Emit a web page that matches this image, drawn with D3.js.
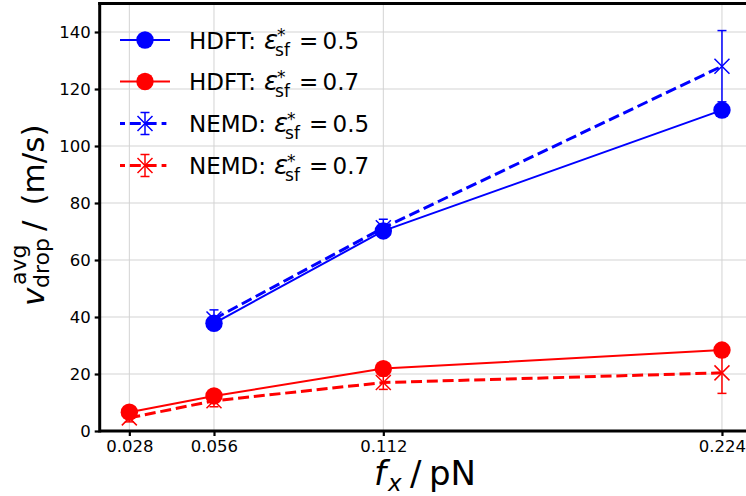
<!DOCTYPE html>
<html><head><meta charset="utf-8">
<script src="https://cdn.jsdelivr.net/npm/d3@7"></script>
<style>body{margin:0;background:#fff}svg{display:block;font-family:"DejaVu Sans",sans-serif}</style>
</head><body><svg id="c" width="746" height="496"></svg>
<script>
const xTicks = [0.028, 0.056, 0.112, 0.224];
const xTickLabels = ["0.028", "0.056", "0.112", "0.224"];
const yTicks = [0, 20, 40, 60, 80, 100, 120, 140];
const hdft05_x = [0.056, 0.112, 0.224];
const hdft05_y = [37.8, 70.2, 112.6];
const hdft07_x = [0.028, 0.056, 0.112, 0.224];
const hdft07_y = [6.6, 12.3, 21.9, 28.4];
const nemd05_x = [0.056, 0.112, 0.224];
const nemd05_y = [39.3, 71.3, 128.0];
const nemd05_err = [3.2, 3.0, 12.5];
const nemd07_x = [0.028, 0.056, 0.112, 0.224];
const nemd07_y = [4.6, 10.6, 17.0, 20.4];
const nemd07_err = [1.4, 2.1, 2.4, 7.2];
const legendNames = ["HDFT:", "HDFT:", "NEMD:", "NEMD:"];
const legendVals = ["0.5", "0.7", "0.5", "0.7"];

const svg = d3.select("#c");
const x = d3.scaleLinear().domain([0.0182, 0.2338]).range([99.7, 751.6]);
const y = d3.scaleLinear().domain([0, 150]).range([431, 3.5]);
const blue = "#0000ff", red = "#ff0000";

// grid
svg.append("g").selectAll("line").data(xTicks).join("line")
  .attr("x1", d => x(d)).attr("x2", d => x(d)).attr("y1", y(0)).attr("y2", y(150))
  .attr("stroke", "#d3d3d3").attr("stroke-width", 1);
svg.append("g").selectAll("line").data(yTicks).join("line")
  .attr("x1", x(0.0182)).attr("x2", 746).attr("y1", d => y(d)).attr("y2", d => y(d))
  .attr("stroke", "#d3d3d3").attr("stroke-width", 1);

// axes
const xAxis = d3.axisBottom(x).tickValues(xTicks).tickFormat((d, i) => xTickLabels[i]).tickSize(5).tickPadding(4);
const gx = svg.append("g").attr("transform", `translate(0,${y(0)})`).call(xAxis);
const yAxis = d3.axisLeft(y).tickValues(yTicks).tickSize(5).tickPadding(4);
const gy = svg.append("g").attr("transform", `translate(${x(0.0182)},0)`).call(yAxis);
[gx, gy].forEach(g => {
  g.select(".domain").remove();
  g.selectAll(".tick line").attr("stroke", "#000").attr("stroke-width", 2.2);
  g.selectAll(".tick text").attr("font-size", 16.5).attr("fill", "#000").attr("font-family", "DejaVu Sans");
});
// spines
svg.append("line").attr("x1", x(0.0182)).attr("x2", 746).attr("y1", y(0)).attr("y2", y(0)).attr("stroke", "#000").attr("stroke-width", 3);
svg.append("line").attr("x1", x(0.0182)).attr("x2", x(0.0182)).attr("y1", y(0) + 1.5).attr("y2", y(150) - 1.5).attr("stroke", "#000").attr("stroke-width", 3);
svg.append("line").attr("x1", x(0.0182) - 1.5).attr("x2", 746).attr("y1", y(150)).attr("y2", y(150)).attr("stroke", "#000").attr("stroke-width", 3);

const line = d3.line().x(d => x(d[0])).y(d => y(d[1]));

function drawHDFT(xs, ys, color) {
  const pts = xs.map((v, i) => [v, ys[i]]);
  svg.append("path").attr("d", line(pts)).attr("fill", "none").attr("stroke", color).attr("stroke-width", 2);
  svg.append("g").selectAll("circle").data(pts).join("circle")
    .attr("cx", d => x(d[0])).attr("cy", d => y(d[1])).attr("r", 8.7).attr("fill", color);
}
function xMark(g, cx, cy, color) {
  const s = 7.5;
  g.append("path").attr("d", `M${cx - s},${cy - s}L${cx + s},${cy + s}M${cx - s},${cy + s}L${cx + s},${cy - s}`)
    .attr("stroke", color).attr("stroke-width", 1.5).attr("fill", "none");
}
function errBar(g, cx, y1, y2, color) {
  g.append("line").attr("x1", cx).attr("x2", cx).attr("y1", y1).attr("y2", y2).attr("stroke", color).attr("stroke-width", 1.5);
  [y1, y2].forEach(yy => g.append("line").attr("x1", cx - 4.5).attr("x2", cx + 4.5).attr("y1", yy).attr("y2", yy).attr("stroke", color).attr("stroke-width", 1.5));
}
function drawNEMD(xs, ys, es, color) {
  const pts = xs.map((v, i) => [v, ys[i], es[i]]);
  svg.append("path").attr("d", line(pts)).attr("fill", "none").attr("stroke", color).attr("stroke-width", 3).attr("stroke-dasharray", "11,4.8");
  const g = svg.append("g");
  pts.forEach(d => {
    errBar(g, x(d[0]), y(d[1] + d[2]), y(d[1] - d[2]), color);
    xMark(g, x(d[0]), y(d[1]), color);
  });
}
drawHDFT(hdft05_x, hdft05_y, blue);
drawHDFT(hdft07_x, hdft07_y, red);
drawNEMD(nemd05_x, nemd05_y, nemd05_err, blue);
drawNEMD(nemd07_x, nemd07_y, nemd07_err, red);

// legend
const legColors = [blue, red, blue, red];
const legY = [40, 81.5, 123.5, 165.5];
const lg = svg.append("g");
legendNames.forEach((n, i) => {
  const yy = legY[i], c = legColors[i];
  if (i < 2) {
    lg.append("line").attr("x1", 120).attr("x2", 170).attr("y1", yy).attr("y2", yy).attr("stroke", c).attr("stroke-width", 2);
    lg.append("circle").attr("cx", 145).attr("cy", yy).attr("r", 8.7).attr("fill", c);
  } else {
    lg.append("line").attr("x1", 120).attr("x2", 170).attr("y1", yy).attr("y2", yy).attr("stroke", c).attr("stroke-width", 3).attr("stroke-dasharray", "5,4.8,11,4.8,11");
    errBar(lg, 145, yy - 11, yy + 11, c);
    xMark(lg, 145, yy, c);
  }
  const base = yy + 8.5;
  const nm = lg.append("text").attr("x", 189).attr("y", base).attr("font-size", 23).attr("fill", "#000").text(n);
  const w = nm.node().getComputedTextLength();
  const ex = 189 + w + 8;
  lg.append("text").attr("x", ex).attr("y", base).attr("font-size", 26).attr("font-style", "italic").attr("fill", "#000").text("ε");
  lg.append("text").attr("x", ex + 11).attr("y", base + 7).attr("font-size", 17).attr("fill", "#000").text("sf");
  lg.append("text").attr("x", ex + 13).attr("y", base - 7.5).attr("font-size", 17).attr("fill", "#000").text("*");
  lg.append("text").attr("x", ex + 35).attr("y", base).attr("font-size", 23).attr("fill", "#000").text("=");
  lg.append("text").attr("x", ex + 58.5).attr("y", base).attr("font-size", 23).attr("fill", "#000").text(legendVals[i]);
});

// x label
const xl = svg.append("g").attr("fill", "#000");
xl.append("text").attr("x", 374).attr("y", 485).attr("font-size", 34).attr("font-style", "italic").text("f");
xl.append("text").attr("x", 388).attr("y", 491).attr("font-size", 23).attr("font-style", "italic").text("x");
xl.append("text").attr("x", 410).attr("y", 485).attr("font-size", 34).text("/");
xl.append("text").attr("x", 429).attr("y", 485).attr("font-size", 34).text("pN");

// y label (rotated: local x runs upward)
const yl = svg.append("g").attr("transform", "translate(43.5,305) rotate(-90)").attr("fill", "#000");
yl.append("text").attr("x", -1).attr("y", 0).attr("font-size", 31).attr("font-style", "italic").text("v");
yl.append("text").attr("x", 17).attr("y", 5).attr("font-size", 22).text("drop");
yl.append("text").attr("x", 20).attr("y", -17.5).attr("font-size", 22).text("avg");
yl.append("text").attr("x", 74).attr("y", 0).attr("font-size", 31).text("/");
yl.append("text").attr("x", 99.5).attr("y", 0).attr("font-size", 31).text("(m/s)");
</script></body></html>
